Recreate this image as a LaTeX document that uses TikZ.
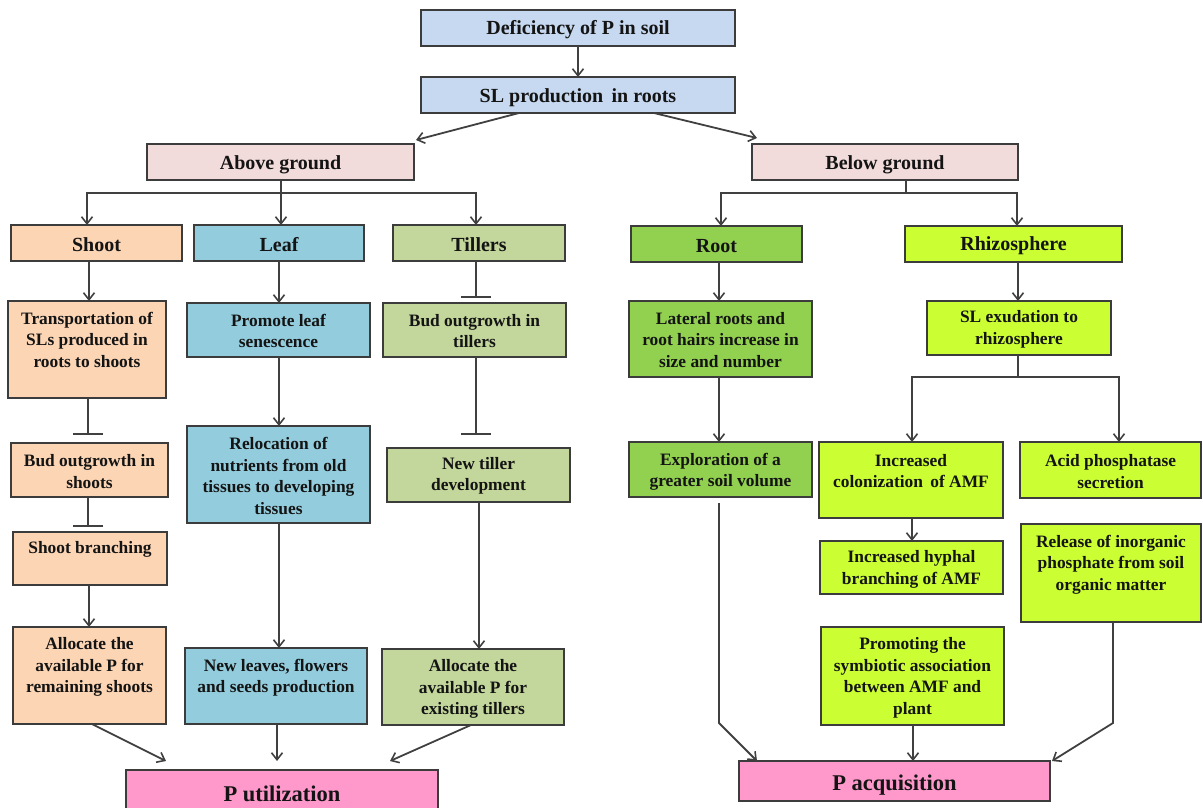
\documentclass[tikz,border=0pt]{standalone}
\usepackage{fontspec}
\setmainfont{Liberation Serif}
\usetikzlibrary{arrows.meta,calc}
\definecolor{cblue}{HTML}{C6D9F1}
\definecolor{cpink}{HTML}{F2DCDB}
\definecolor{cpeach}{HTML}{FCD5B5}
\definecolor{cleaf}{HTML}{93CDDD}
\definecolor{ctill}{HTML}{C3D69B}
\definecolor{croot}{HTML}{92D050}
\definecolor{crhiz}{HTML}{CCFF33}
\definecolor{cp}{HTML}{FF99CC}
\definecolor{bordercol}{HTML}{3C3C3C}
\definecolor{linecol}{HTML}{404040}
\newcommand\hdrfnt{\fontsize{20}{24}\selectfont}
\newcommand\bigfnt{\fontsize{22.5}{26}\selectfont}
\newcommand\mybox[8]{%
  \node[box,fill=#6,minimum width={(#4)-(#2)},minimum height={(#5)-(#3)}] (#1) at ({((#2)+(#4))/2},{((#3)+(#5))/2}) {};
  \node[txt] (#1-t) at ({((#2)+(#4))/2},#7) {#8};}
\begin{document}
\begin{tikzpicture}[x=1pt,y=-1pt,
  box/.style={draw=bordercol,line width=1.9pt,inner sep=0pt,outer sep=0pt,rectangle},
  txt/.style={inner sep=0pt,align=center,text=black!92,font=\bfseries\fontsize{17.4}{21.5}\selectfont},
  arr/.style={draw=linecol,line width=1.8pt,-{Straight Barb[length=7pt,width=11pt,line width=1.6pt]}},
  inh/.style={draw=linecol,line width=1.8pt,-{Bar[width=30pt,line width=2pt]}}]
\useasboundingbox (0,0) rectangle (1203,807);
\clip (0,0) rectangle (1203,807);
% top
\mybox{def}{421}{10}{735}{46}{cblue}{30}{\hdrfnt Deficiency of P in soil}
\mybox{slp}{421}{77}{735}{113}{cblue}{98}{\hdrfnt SL production\, in roots}
\mybox{above}{147}{144}{414}{180}{cpink}{165}{\hdrfnt Above ground}
\mybox{below}{752}{144}{1018}{180}{cpink}{165}{\hdrfnt Below ground}
% second level
\mybox{shoot}{11}{225}{182}{261}{cpeach}{245}{\hdrfnt Shoot}
\mybox{leaf}{194}{225}{364}{261}{cleaf}{245}{\hdrfnt Leaf}
\mybox{tillers}{393}{225}{565}{261}{ctill}{245}{\hdrfnt Tillers}
\mybox{root}{631}{226}{802}{262}{croot}{246}{\hdrfnt Root}
\mybox{rhizo}{905}{226}{1122}{262}{crhiz}{246}{\hdrfnt Rhizosphere}
% shoot column
\mybox{trans}{8}{301}{166}{398}{cpeach}{339.5}{Transportation of\\SLs produced in\\roots to shoots}
\mybox{budS}{11}{443}{168}{497}{cpeach}{471.5}{Bud outgrowth in\\shoots}
\mybox{branch}{13}{532}{167}{585}{cpeach}{549}{Shoot branching}
\mybox{allocR}{13}{627}{166}{724}{cpeach}{667}{Allocate the\\available P for\\remaining shoots}
% leaf column
\mybox{promote}{187}{303}{370}{357}{cleaf}{331}{Promote leaf\\senescence}
\mybox{reloc}{187}{426}{370}{523}{cleaf}{476}{Relocation of\\nutrients from old\\tissues to developing\\tissues}
\mybox{newleaves}{185}{648}{367}{724}{cleaf}{677.5}{New leaves, flowers\\and seeds production}
% tillers column
\mybox{budT}{383}{303}{566}{357}{ctill}{331}{Bud outgrowth in\\tillers}
\mybox{newtiller}{387}{448}{570}{502}{ctill}{476}{New tiller\\development}
\mybox{allocE}{382}{649}{564}{725}{ctill}{689}{Allocate the\\available P for\\existing tillers}
% root column
\mybox{lateral}{629}{301}{812}{377}{croot}{340}{Lateral roots and\\root hairs increase in\\size and number}
\mybox{explor}{629}{442}{812}{497}{croot}{472}{Exploration of a\\greater soil volume}
% rhizosphere column
\mybox{slexu}{927}{301}{1111}{355}{crhiz}{329.5}{SL exudation to\\rhizosphere}
\mybox{colon}{819}{442}{1003}{518}{crhiz}{471}{Increased\\colonization\, of AMF}
\mybox{acid}{1020}{442}{1201}{498}{crhiz}{471.5}{Acid phosphatase\\secretion}
\mybox{hyphal}{820}{541}{1003}{594}{crhiz}{569.5}{Increased hyphal\\branching of AMF}
\mybox{release}{1021}{524}{1201}{622}{crhiz}{564.5}{Release of inorganic\\phosphate from soil\\organic matter}
\mybox{promoting}{821}{627}{1004}{725}{crhiz}{678}{Promoting the\\symbiotic association\\between AMF and\\plant}
% bottom
\mybox{putil}{126}{770}{438}{830}{cp}{794}{\bigfnt P utilization}
\mybox{pacq}{739}{761}{1050}{801}{cp}{785}{\bigfnt P acquisition}
% connectors top
\draw[arr] (def) -- (slp);
\draw[arr] ($(slp.south)+(-59,0)$) -- ($(above.north east)+(2,-4)$);
\draw[arr] ($(slp.south)+(76,0)$) -- ($(below.north west)+(5,-6)$);
% above tree
\draw[arr] ($(above.south)+(0.5,0)$) -- ++(0,13) -| ($(shoot.north)+(-9.5,0)$);
\draw[arr] ($(above.south)+(0.5,0)$) -- ($(above.south |- leaf.north)+(0.5,0)$);
\draw[arr] ($(above.south)+(0.5,0)$) -- ++(0,13) -| ($(tillers.north)+(-3,0)$);
% below tree
\draw[arr] ($(below.south)+(21,0)$) -- ++(0,13) -| ($(root.north)+(4.5,0)$);
\draw[arr] ($(below.south)+(21,0)$) -- ++(0,13) -| ($(rhizo.north)+(3.5,0)$);
% shoot column
\draw[arr] ($(shoot.south)+(-7.5,0)$) -- ($(trans.north)+(2,0)$);
\draw[inh,shorten >=8pt] ($(trans.south)+(1,0)$) -- ($(budS.north)+(-1.5,0)$);
\draw[inh,shorten >=5pt] ($(budS.south)+(-1.5,0)$) -- ($(branch.north)+(-2,0)$);
\draw[arr] ($(branch.south)+(-1,0)$) -- ($(allocR.north)+(-0.5,0)$);
% leaf column
\draw[arr] (leaf.south) -- (leaf.south |- promote.north);
\draw[arr] ($(promote.south)+(0.5,0)$) -- ($(reloc.north)+(0.5,0)$);
\draw[arr] ($(reloc.south)+(0.5,0)$) -- ($(reloc.south |- newleaves.north)+(0.5,0)$);
% tillers column
\draw[inh,shorten >=5pt] ($(tillers.south)+(-3,0)$) -- ($(budT.north)+(1.5,0)$);
\draw[inh,shorten >=13pt] ($(budT.south)+(1.5,0)$) -- ($(budT.south |- newtiller.north)+(1.5,0)$);
\draw[arr] ($(newtiller.south)+(0.5,0)$) -- ($(newtiller.south |- allocE.north)+(0.5,0)$);
% to P utilization
\draw[arr] ($(allocR.south)+(2.5,0)$) -- ($(putil.north west)+(40,-9)$);
\draw[arr] ($(newleaves.south)+(1,0)$) -- ($(newleaves.south |- putil.north)+(1,-9)$);
\draw[arr] ($(allocE.south)+(-2,0)$) -- ($(putil.north east)+(-48,-9)$);
% root column
\draw[arr] ($(root.south)+(2.5,0)$) -- ($(root.south |- lateral.north)+(2.5,0)$);
\draw[arr] ($(lateral.south)+(-1.5,0)$) -- ($(lateral.south |- explor.north)+(-1.5,0)$);
\draw[arr] ($(explor.south)+(-1.5,6)$) -- ($(explor.south)+(-1.5,226)$) -- ($(pacq.north west)+(18,0)$);
% rhizosphere column
\draw[arr] ($(rhizo.south)+(4.5,0)$) -- ($(slexu.north)+(-1,0)$);
\draw[arr] ($(slexu.south)+(-1,0)$) -- ++(0,22) -| ($(colon.north)+(1,0)$);
\draw[arr] ($(slexu.south)+(-1,0)$) -- ++(0,22) -| ($(acid.north)+(8.5,0)$);
\draw[arr] ($(colon.south)+(1,0)$) -- ($(hyphal.north)+(0.5,0)$);
\draw[arr] ($(promoting.south)+(0.5,0)$) -- ($(promoting.south |- pacq.north)+(0.5,0)$);
\draw[arr] ($(release.south)+(2,0)$) -- ($(release.south)+(2,101)$) -- ($(pacq.north east)+(2,0)$);
\end{tikzpicture}
\end{document}
